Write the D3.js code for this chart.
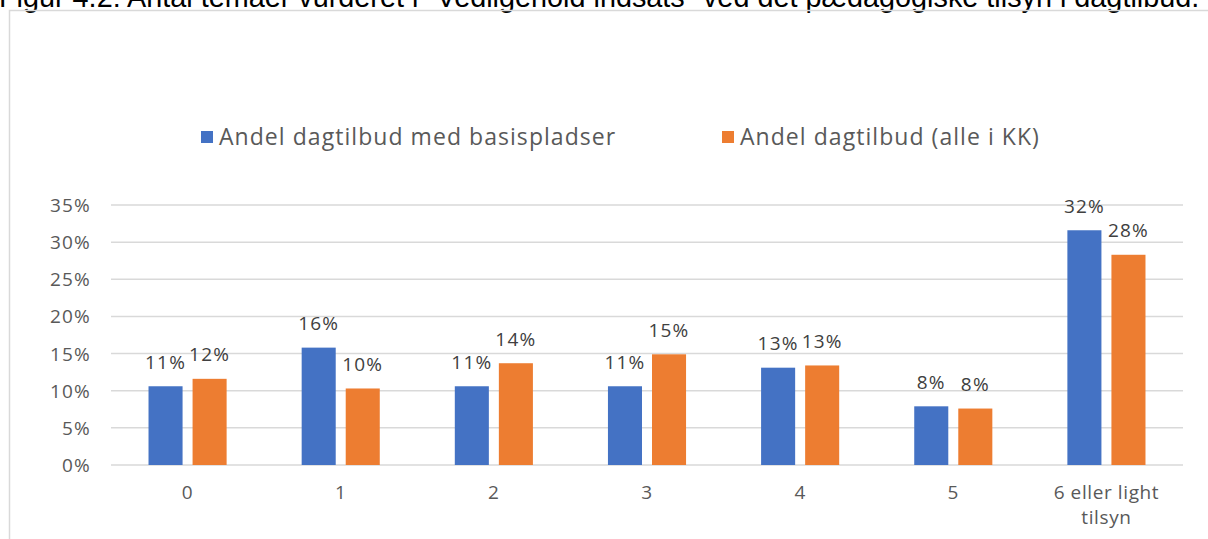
<!DOCTYPE html>
<html>
<head>
<meta charset="utf-8">
<script src="https://cdn.jsdelivr.net/npm/d3@7"></script>
<style>
  html, body { margin: 0; padding: 0; background: #fff; overflow: hidden; }
  svg { display: block; }
</style>
</head>
<body>
<svg id="chart" width="1208" height="539"></svg>
<script>
const titleText = 'Figur 4.2: Antal temaer vurderet i "Vedligehold indsats" ved det pædagogiske tilsyn i dagtilbud.';
const categories = ["0", "1", "2", "3", "4", "5", "6 eller light tilsyn"];
const categoryLines = [["0"], ["1"], ["2"], ["3"], ["4"], ["5"], ["6 eller light", "tilsyn"]];
const seriesNames = ["Andel dagtilbud med basispladser", "Andel dagtilbud (alle i KK)"];
const seriesBasis = [0.106, 0.158, 0.106, 0.106, 0.131, 0.079, 0.316];
const seriesAlle = [0.116, 0.103, 0.137, 0.149, 0.134, 0.076, 0.283];
const yTicks = [0, 0.05, 0.10, 0.15, 0.20, 0.25, 0.30, 0.35];
const colors = ["#4472C4", "#ED7D31"];

const font = "'Open Sans', Lato, sans-serif";
const svg = d3.select("#chart");

// title (partially cut off at top, as in the reference)
svg.append("text")
  .attr("x", -1).attr("y", 7)
  .attr("font-family", "'Liberation Sans', Arial, sans-serif")
  .attr("font-size", 28.8)
  .attr("fill", "#000")
  .text(titleText);

// chart area border
svg.append("rect")
  .attr("x", 9.5).attr("y", 10.5)
  .attr("width", 1400).attr("height", 700)
  .attr("fill", "none")
  .attr("stroke", "#d9d9d9")
  .attr("stroke-width", 1.5);

const x0 = d3.scaleBand().domain(categories).range([111, 1183])
  .paddingInner(0.49).paddingOuter(0.245);
const x1 = d3.scaleBand().domain(seriesNames).range([0, x0.bandwidth()])
  .paddingInner(0.227);
const y = d3.scaleLinear().domain([0, 0.35]).range([465, 205]);

// gridlines
svg.append("g").selectAll("line").data(yTicks).join("line")
  .attr("x1", 111).attr("x2", 1183)
  .attr("y1", d => y(d)).attr("y2", d => y(d))
  .attr("stroke", "#d9d9d9").attr("stroke-width", 1.5);

// y tick labels
const fmt = d3.format(".0%");
svg.append("g").selectAll("text").data(yTicks).join("text")
  .attr("x", 91).attr("y", d => y(d) + 7)
  .attr("text-anchor", "end")
  .attr("font-family", font).attr("font-size", 19)
  .attr("letter-spacing", 1.2)
  .attr("fill", "#595959")
  .text(d => fmt(d));

// bars
const data = categories.map((c, i) => ({
  cat: c,
  vals: [
    { s: seriesNames[0], v: seriesBasis[i], k: 0 },
    { s: seriesNames[1], v: seriesAlle[i], k: 1 }
  ]
}));

const groups = svg.append("g").selectAll("g").data(data).join("g")
  .attr("transform", d => `translate(${x0(d.cat)},0)`);

groups.selectAll("rect").data(d => d.vals).join("rect")
  .attr("x", d => x1(d.s))
  .attr("width", x1.bandwidth())
  .attr("y", d => y(d.v))
  .attr("height", d => y(0) - y(d.v))
  .attr("fill", d => colors[d.k]);

groups.selectAll("text").data(d => d.vals).join("text")
  .attr("x", d => x1(d.s) + x1.bandwidth() / 2)
  .attr("y", d => y(d.v) - 17.5)
  .attr("text-anchor", "middle")
  .attr("font-family", font).attr("font-size", 19)
  .attr("letter-spacing", 1.2)
  .attr("fill", "#404040")
  .text(d => fmt(d.v));

// x axis labels
const xl = svg.append("g").selectAll("text").data(categories).join("text")
  .attr("x", d => x0(d) + x0.bandwidth() / 2)
  .attr("y", 499)
  .attr("text-anchor", "middle")
  .attr("font-family", font).attr("font-size", 19)
  .attr("letter-spacing", 0.6)
  .attr("fill", "#595959");
xl.each(function(d, i) {
  const t = d3.select(this);
  categoryLines[i].forEach((line, j) => {
    t.append("tspan").attr("x", x0(d) + x0.bandwidth() / 2)
      .attr("dy", j === 0 ? 0 : 25).text(line);
  });
});

// legend
const legendX = [201, 722];
const lg = svg.append("g").selectAll("g").data(seriesNames).join("g")
  .attr("transform", (d, i) => `translate(${legendX[i]},131)`);
lg.append("rect").attr("width", 12).attr("height", 12)
  .attr("fill", (d, i) => colors[i]);
lg.append("text").attr("x", 18).attr("y", 13.5)
  .attr("font-family", font).attr("font-size", 23)
  .attr("letter-spacing", 1.05)
  .attr("fill", "#595959")
  .text(d => d);
</script>
</body>
</html>
